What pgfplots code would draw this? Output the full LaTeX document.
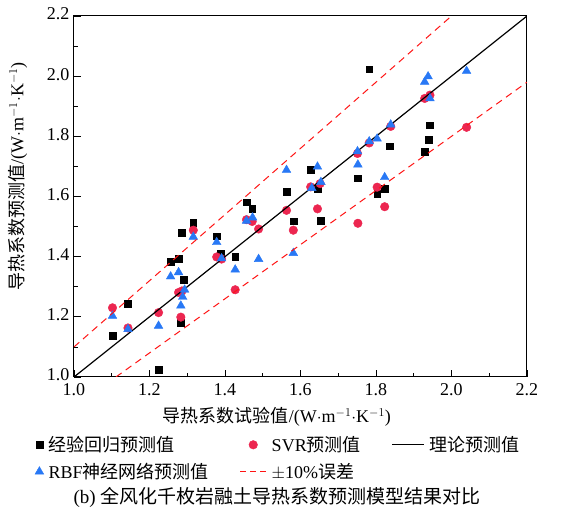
\documentclass[border=0pt]{standalone}
\usepackage{pgfplots}
\pgfplotsset{compat=1.18}
\usepackage{fontspec}
\setmainfont{Liberation Serif}
\newfontfamily\cjk{Noto Sans CJK SC}
\definecolor{sqblack}{RGB}{0,0,0}
\definecolor{cred}{RGB}{236,38,80}
\definecolor{tblue}{RGB}{40,120,245}
\definecolor{dred}{RGB}{255,20,20}
\pgfplotsset{
  legline30/.style={legend image code/.code={\draw[##1] (0pt,0pt) -- (32pt,0pt);}},
  legline26/.style={legend image code/.code={\draw[##1,dash pattern=on 6pt off 4pt] (0pt,0pt) -- (26pt,0pt);}},
  legmark/.style={legend image code/.code={\draw[##1] plot coordinates {(6pt,0pt)};}},
  legmarkc/.style={legend image code/.code={\draw[##1] plot coordinates {(13pt,0pt)};}},
}
\pgfplotstableread{
x y
1.102 1.137
1.143 1.243
1.224 1.023
1.256 1.383
1.277 1.394
1.291 1.323
1.286 1.479
1.316 1.512
1.283 1.181
1.378 1.468
1.389 1.410
1.427 1.399
1.457 1.581
1.472 1.559
1.563 1.617
1.581 1.518
1.627 1.688
1.646 1.627
1.654 1.520
1.751 1.661
1.782 2.023
1.837 1.767
1.803 1.608
1.823 1.626
1.928 1.748
1.939 1.788
1.943 1.837
}\empirical
\pgfplotstableread{
x y
1.102 1.230
1.143 1.163
1.224 1.214
1.277 1.281
1.286 1.286
1.283 1.199
1.316 1.488
1.378 1.399
1.391 1.392
1.427 1.290
1.457 1.523
1.472 1.517
1.489 1.492
1.563 1.554
1.581 1.488
1.627 1.632
1.645 1.559
1.652 1.643
1.751 1.743
1.752 1.511
1.782 1.778
1.803 1.631
1.823 1.566
1.839 1.833
1.929 1.926
1.943 1.937
2.040 1.830
}\svr
\pgfplotstableread{
x y
1.102 1.203
1.143 1.159
1.224 1.170
1.256 1.334
1.277 1.348
1.293 1.290
1.288 1.266
1.283 1.237
1.316 1.466
1.378 1.448
1.391 1.394
1.427 1.357
1.457 1.519
1.473 1.530
1.489 1.392
1.563 1.688
1.581 1.412
1.630 1.628
1.645 1.699
1.654 1.648
1.751 1.750
1.752 1.706
1.782 1.783
1.803 1.792
1.823 1.664
1.839 1.839
1.929 1.981
1.938 1.999
1.943 1.926
2.040 2.017
}\rbf
\begin{document}
\begin{tikzpicture}
\path[use as bounding box] (-74pt,-137pt) rectangle (492pt,377pt);
\begin{axis}[
  scale only axis,
  width=453pt, height=361pt,
  xmin=1.0, xmax=2.2, ymin=1.0, ymax=2.2,
  xtick={1.0,1.2,...,2.2}, ytick={1.0,1.2,...,2.2},
  minor x tick num=1, minor y tick num=1,
  xticklabel style={yshift=-3pt, /pgf/number format/fixed, /pgf/number format/fixed zerofill, /pgf/number format/precision=1},
  yticklabel style={xshift=-1pt, yshift=2pt, /pgf/number format/fixed, /pgf/number format/fixed zerofill, /pgf/number format/precision=1},
  /pgf/number format/assume math mode=true,
  tick align=inside,
  xtick pos=bottom, ytick pos=left,
  major tick length=7pt, minor tick length=4pt,
  tick style={black, line width=0.8pt},
  axis line style={line width=1pt},
  font=\fontsize{18}{21}\selectfont,
  ticklabel style={font=\fontsize{18}{21}\selectfont},
  xlabel={{\cjk 导热系数试验值}/(W$\cdot$m$^{-1}\cdot$K$^{-1}$)},
  ylabel={{\cjk 导热系数预测值}/(W$\cdot$m$^{-1}\cdot$K$^{-1}$)},
  xlabel style={at={(axis description cs:0.448,-0.11)}, anchor=center},
  ylabel style={at={(axis description cs:-0.124,0.556)}, anchor=center},
  legend columns=3,
  legend cell align=left,
  legend style={draw=none, fill=none, at={(axis description cs:-0.093,-0.153)}, anchor=north west,
    font=\fontsize{18}{21}\selectfont, row sep=6pt,
    /tikz/every odd column/.append style={column sep=3pt},
    /tikz/every even column/.append style={column sep=29pt}},
  clip mode=individual,
]
\addplot[only marks, mark=square*, mark size=3.4pt, color=sqblack, legmark] table[x=x,y=y]{\empirical};
\addlegendentry{\cjk 经验回归预测值}
\addplot[only marks, mark=*, mark size=4.3pt, color=cred, legmarkc] table[x=x,y=y]{\svr};
\addlegendentry{SVR{\cjk 预测值}}
\addplot[black, line width=1.2pt, legline30] coordinates {(1.0,1.0) (2.2,2.2)};
\addlegendentry{\cjk 理论预测值}
\addplot[only marks, mark=triangle*, mark size=5pt, color=tblue, legmark] table[x=x,y=y]{\rbf};
\addlegendentry{RBF{\cjk 神经网络预测值}}
\addplot[dred, line width=1pt, dash pattern=on 7pt off 5pt, legline26] coordinates {(1.0,1.1) (2.0,2.2)};
\addlegendentry{$\pm$10\%{\cjk 误差}}
\addplot[dred, line width=1pt, dash pattern=on 7pt off 5pt, forget plot] coordinates {(1.1111,1.0) (2.2,1.98)};
\end{axis}
\node[font=\fontsize{19}{22}\selectfont] at (203pt,-120pt) {(b) {\cjk 全风化千枚岩融土导热系数预测模型结果对比}};
\end{tikzpicture}
\end{document}
